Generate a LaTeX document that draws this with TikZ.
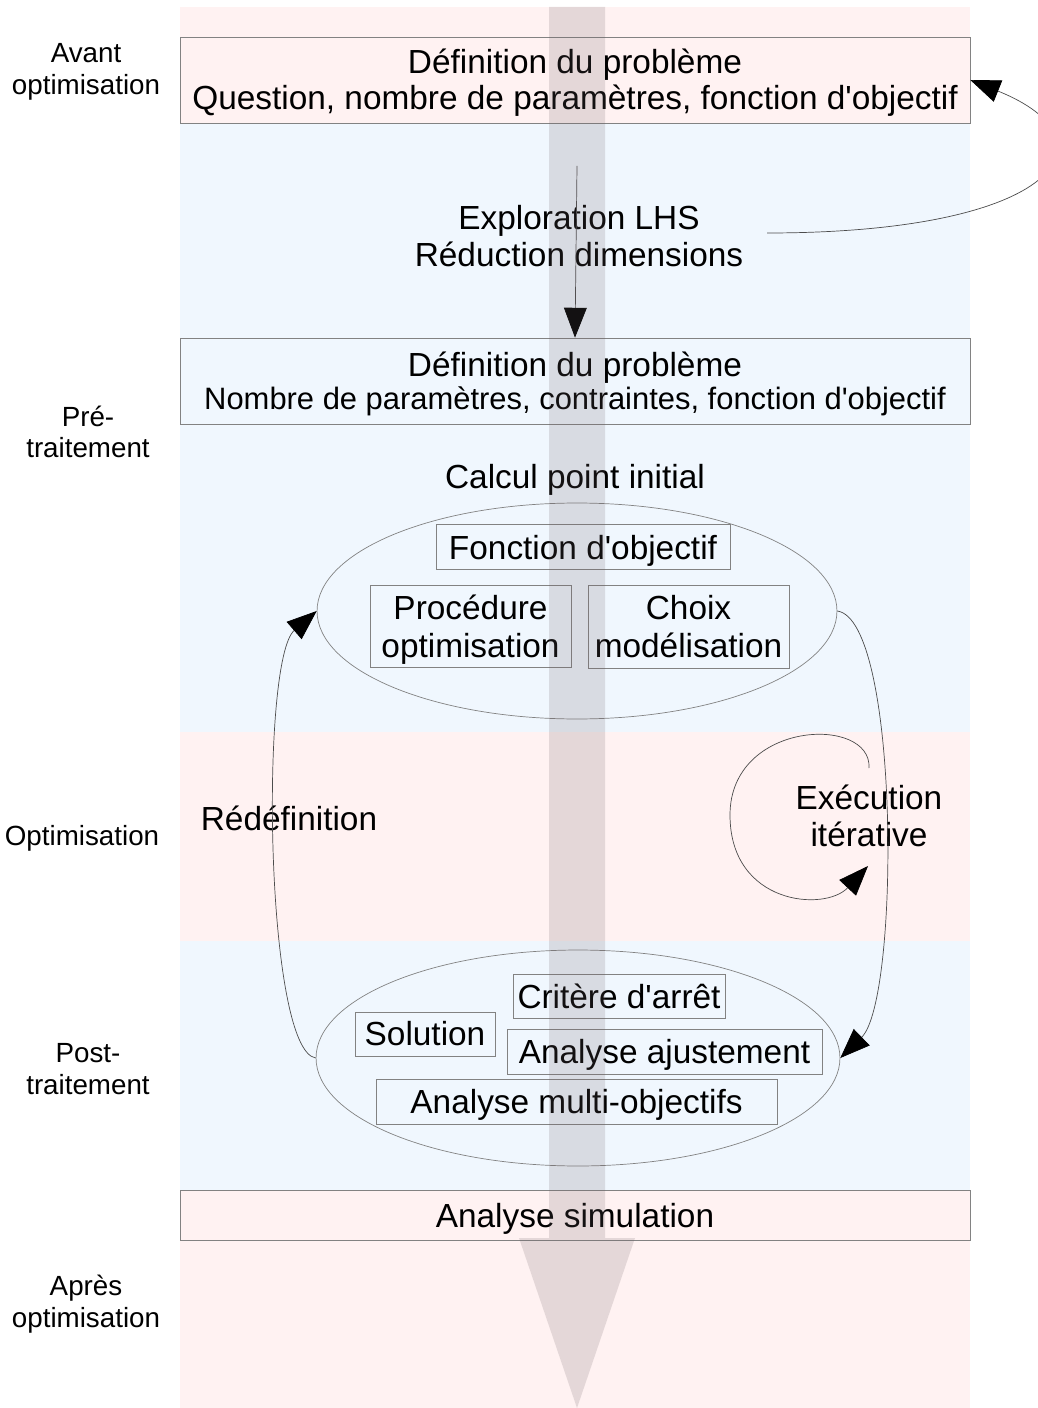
\documentclass[tikz,border=0pt]{standalone}
\usepackage{fontspec}
\setmainfont{Liberation Sans}[Ligatures=TeXOff]
\usetikzlibrary{arrows.meta,shapes.geometric}

\definecolor{bandpink}{RGB}{255,242,242}
\definecolor{bandblue}{RGB}{240,247,254}
\definecolor{boxline}{RGB}{130,130,130}
\definecolor{flowgray}{RGB}{110,95,100}

\tikzset{
  mainbox/.style={draw=boxline, rectangle, inner sep=0pt, minimum width=15.8cm, align=center, font=\fontsize{19}{21}\selectfont},
  smallbox/.style={draw=boxline, rectangle, inner sep=0pt, align=center, font=\fontsize{19}{21.5}\selectfont},
  nodepth/.style={text depth=0pt},
  phase/.style={align=center, font=\fontsize{15.8}{18}\selectfont},
  bigtext/.style={align=center, font=\fontsize{19}{21}\selectfont},
  group/.style={draw=boxline, ellipse, inner sep=0pt},
  arr/.style={draw=black!70, line width=0.4pt, -{Triangle[length=17pt,width=13pt,color=black]}},
}

\begin{document}
\begin{tikzpicture}[x=0.02cm, y=-0.02cm]
    \useasboundingbox (0,0) rectangle (1037,1408);

    % Bands
    \fill[bandpink] (180,7) rectangle (970,123);
    \fill[bandblue] (180,123) rectangle (970,732);
    \fill[bandpink] (180,732) rectangle (970,941);
    \fill[bandblue] (180,941) rectangle (970,1190);
    \fill[bandpink] (180,1190) rectangle (970,1408);

    % Phases
    \node[phase] (avant) at (86,72) {Avant\\optimisation};
    \node[phase] (pre) at (88,432) {Pré-\\traitement};
    \node[phase] (optim) at (82,838) {Optimisation};
    \node[phase] (post) at (88,1069) {Post-\\traitement};
    \node[phase] (apres) at (86,1304) {Après\\optimisation};

    % Main boxes
    \node[mainbox, fill=bandpink, minimum height=1.72cm] (deftop) at (575,80)
        {\rule{0pt}{0pt}\\[-4pt]Définition du problème\\Question, nombre de paramètres, fonction d'objectif};
    \node[bigtext] (lhs) at (579,236) {Exploration LHS\\Réduction dimensions};
    \node[mainbox, fill=bandblue, minimum height=1.72cm] (defbox) at (575,381)
        {\rule{0pt}{0pt}\\[-4pt]Définition du problème\\[-2pt]{\fontsize{17.6}{19}\selectfont Nombre de paramètres, contraintes, fonction d'objectif}};
    \node[bigtext] (calc) at (575,480) {Calcul point initial};

    % Initial point group
    \node[group, minimum width=10.4cm, minimum height=4.32cm] (ellinit) at (577,611) {};
    \node[smallbox, nodepth, minimum width=5.88cm, minimum height=0.9cm] (fobj) at (583,547) {Fonction d'objectif};
    \node[smallbox, nodepth, minimum width=4.02cm, minimum height=1.64cm] (proc) at (470.5,626) {Procédure\\optimisation};
    \node[smallbox, minimum width=4.02cm, minimum height=1.66cm] (choix) at (688.5,626.5) {Choix\\modélisation};

    % Optimisation
    \node[bigtext] (redef) at (289,818) {Rédéfinition};
    \node[bigtext] (exec) at (869,816) {Exécution\\itérative};

    % Post-processing group
    \node[group, minimum width=10.48cm, minimum height=4.32cm] (ellpost) at (578,1058) {};
    \node[smallbox, minimum width=4.24cm, minimum height=0.88cm] (crit) at (619,996) {Critère d'arrêt};
    \node[smallbox, minimum width=2.8cm, minimum height=0.88cm] (sol) at (425,1034) {Solution};
    \node[smallbox, nodepth, minimum width=6.3cm, minimum height=0.9cm] (ajust) at (664.5,1051.5) {Analyse ajustement};
    \node[smallbox, nodepth, minimum width=8.02cm, minimum height=0.9cm] (multi) at (576.5,1101.5) {Analyse multi-objectifs};

    \node[mainbox, nodepth, fill=bandpink, minimum height=1.0cm] (simu) at (575,1215) {Analyse simulation};

    % Connectors
    \coordinate (lhstop) at (577,166);
    \coordinate (lhsend) at (767,233);
    \draw[arr] (lhstop) -- (defbox.north);
    \draw[arr] (lhsend) .. controls (1060,233) and (1120,140) .. (deftop.east);
    \draw[arr] (ellinit.east) .. controls (900,620) and (900,1000) .. (ellpost.east);
    \draw[arr] (ellpost.west) .. controls (265,1050) and (260,660) .. (ellinit.west);

    % Loop
    \coordinate (loopa) at (869,768);
    \coordinate (loopb) at (868,866);
    \draw[arr] (loopa) .. controls (872,715) and (730,720) .. (730,815)
        .. controls (730,905) and (825,912) .. (loopb);

    % Flow arrow
    \fill[flowgray, fill opacity=0.18] (549,7) -- (605,7) -- (605,1238) -- (635,1238)
        -- (577,1408) -- (519,1238) -- (549,1238) -- cycle;
\end{tikzpicture}
\end{document}
